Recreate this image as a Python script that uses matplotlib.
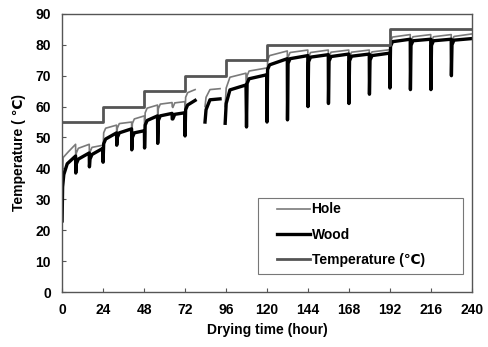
import numpy as np
import matplotlib as mpl
mpl.use('agg')
import matplotlib.pyplot as plt
from matplotlib.patches import Rectangle

plt.rcParams['font.family'] = ['Liberation Sans', 'DejaVu Sans']
plt.rcParams['font.weight'] = 'bold'

## kiln set temperature (step schedule)
set_t = [0, 24, 24, 48, 48, 72, 72, 96, 96, 120, 120, 192, 192, 240]
set_v = [55, 55, 60, 60, 65, 65, 70, 70, 75, 75, 80, 80, 85, 85]

## wood: start of run, then cycles (dip time, dip value, value after recovery, value before next dip)
wood_start_t = [0, 0.3, 1, 3, 7.9]
wood_start_v = [23, 34, 38, 41.5, 44]
wood_dip_t = [8, 16, 24, 32, 40.8, 48.3, 56, 64.5, 72, 108, 120, 132, 144, 156, 168, 180, 192, 204, 216, 228]
wood_dip_v = [38.5, 40.5, 42, 47.5, 46, 46.6, 48.1, 56, 50.5, 53.4, 55, 55.7, 60, 61, 61, 64, 66, 65.5, 65.5, 70]
wood_rec_v = [43, 44.5, 49.5, 51.5, 51.5, 55.5, 57, 57.5, 60.5, 69, 73.5, 75.5, 76, 76.2, 76.3, 76.5, 81, 81.3, 81.3, 81.5]
wood_end_v = [45, 46.5, 51.5, 52.8, 52.2, 57, 57.8, 58, 62, 70.3, 75.5, 76.5, 76.8, 77, 77, 77.3, 81.8, 81.8, 81.8, 82]
## pieces between logging gaps
wood_seg_t = [[83.7, 84.3, 86.6, 92.5], [95.5, 96.1, 98.3, 107.7]]
wood_seg_v = [[55, 59, 62.2, 62.5], [54.6, 61, 65.4, 67]]

hole_start_t = [0, 0.6, 3.7, 7.9]
hole_start_v = [28, 43.5, 45.4, 47.8]
hole_dip_v = [42, 44, 46, 51, 50, 50, 55, 60, 55, 58, 62, 66, 68, 69, 69, 70, 72, 72, 72, 74]
hole_rec_v = [46.5, 46.8, 53, 54.5, 56, 59.5, 60.8, 61.2, 64.5, 71.5, 76.5, 77.5, 77.5, 77.6, 77.6, 77.7, 82.5, 82.6, 82.6, 82.7]
hole_end_v = [47.8, 47.5, 54, 55, 57, 60.5, 61.3, 61.6, 65.5, 72.5, 78, 78.3, 78.3, 78.3, 78.3, 78.4, 83.3, 83.3, 83.3, 83.5]
hole_seg_t = [[83.7, 84.3, 86.6, 92.5], [95.5, 96.1, 98.3, 107.7]]
hole_seg_v = [[60, 63, 65.5, 65.8], [60, 66, 69.5, 70.8]]

# end of each cycle (next dip, or a logging gap)
cycle_end_t = wood_dip_t[1:] + [240]
cycle_end_t[8] = 78  # data missing after 78 h


def build(start_t, start_v, dip_v, rec_v, end_v, seg_t, seg_v):
    t = list(start_t)
    v = list(start_v)
    for i, td in enumerate(wood_dip_t):
        if td == 108:
            for st, sv in zip(seg_t, seg_v):
                t += [np.nan] + st
                v += [np.nan] + sv
        te = cycle_end_t[i]
        t += [td, td + 0.35, td + 1.5, te - 0.1]
        v += [dip_v[i], rec_v[i] - 1.5, rec_v[i], end_v[i]]
    return np.array(t), np.array(v)


wood_t, wood_v = build(wood_start_t, wood_start_v, wood_dip_v, wood_rec_v, wood_end_v, wood_seg_t, wood_seg_v)
hole_t, hole_v = build(hole_start_t, hole_start_v, hole_dip_v, hole_rec_v, hole_end_v, hole_seg_t, hole_seg_v)

fig = plt.figure(figsize=(4.89, 3.47), dpi=100)
ax = fig.add_axes([0.127, 0.1585, 0.838, 0.8015])

ax.plot(hole_t, hole_v, color='#7a7a7a', lw=1.2, label='Hole')
ax.plot(wood_t, wood_v, color='black', lw=2.4, label='Wood')
ax.plot(set_t, set_v, color='#555555', lw=2.0, label='Temperature (\u2103)')

ax.set_xlim(0, 240)
ax.set_ylim(0, 90)
ax.set_xticks(np.arange(0, 241, 24))
ax.set_yticks(np.arange(0, 91, 10))
ax.tick_params(direction='in', length=3, labelsize=10, pad=8, color='#555555')
for lab in ax.get_xticklabels() + ax.get_yticklabels():
    lab.set_fontweight('bold')
for s in ax.spines.values():
    s.set_color('#555555')
    s.set_linewidth(1.0)

ax.set_xlabel('Drying time (hour)', fontsize=10, fontweight='bold', labelpad=4)
ax.set_ylabel('Temperature ( \u2103)', fontsize=10, fontweight='bold', labelpad=7)

# legend box drawn separately so the padding can match the reference
ax.add_patch(Rectangle((0.478, 0.065), 0.5, 0.273, transform=ax.transAxes,
                       facecolor='white', edgecolor='#777777', lw=0.8, zorder=4))
leg = ax.legend(loc='upper left', bbox_to_anchor=(0.524, 0.322), fontsize=10,
                frameon=False, handlelength=2.4, handletextpad=0.1,
                labelspacing=0.8, borderpad=0, borderaxespad=0)
leg.set_zorder(5)
for txt in leg.get_texts():
    txt.set_fontweight('bold')

fig.savefig('out.png', dpi=100)
